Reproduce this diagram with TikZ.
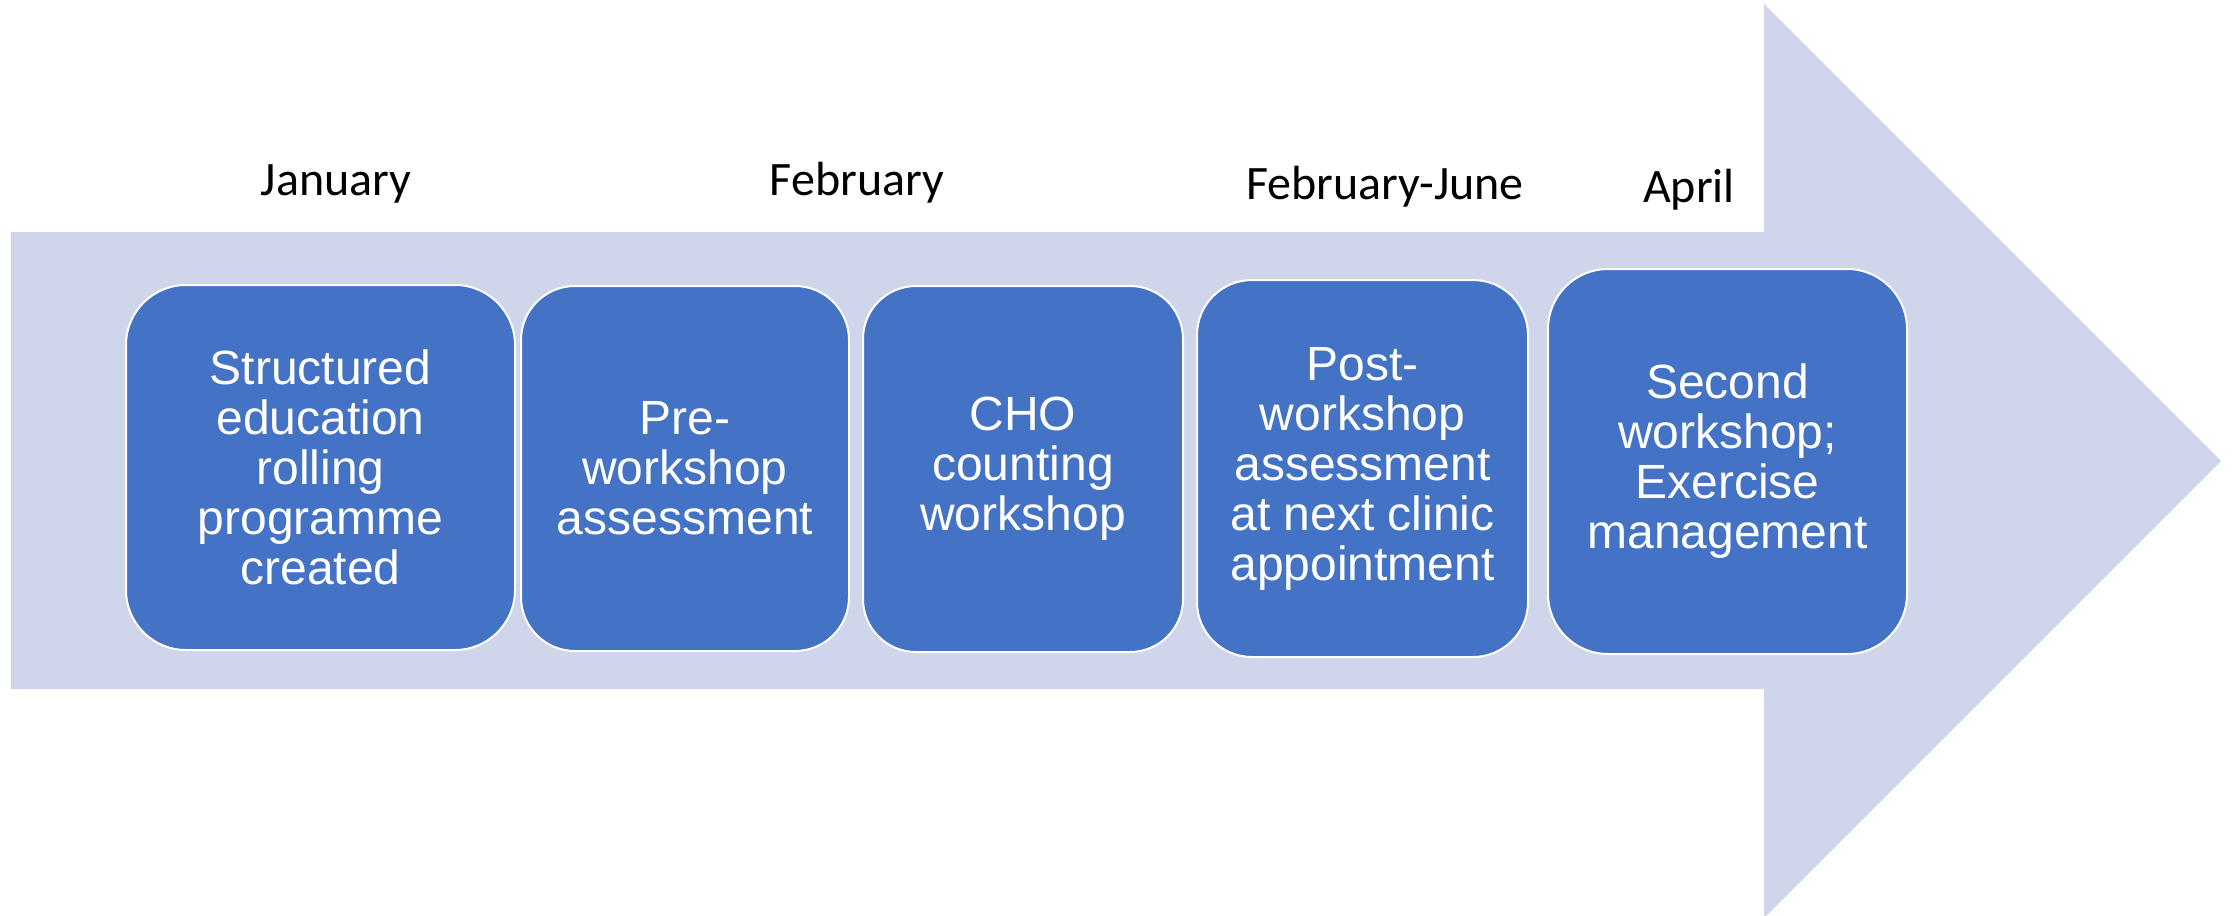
\documentclass[tikz,border=0pt]{standalone}
\usepackage{fontspec}
\setmainfont{Liberation Sans}
\newfontfamily\monthfont{Carlito}
\definecolor{shaftfill}{HTML}{CFD5EA}
\definecolor{stepfill}{HTML}{4472C4}
\begin{document}
\begin{tikzpicture}[x=0.5pt,y=-0.5pt,
  stepbox/.style={draw=white,line width=1pt,fill=stepfill,text=white,
    inner sep=0pt,align=center,font=\fontsize{24}{25}\selectfont},
  monthlabel/.style={anchor=base,inner sep=0pt,font=\monthfont\fontsize{24}{28}\selectfont}]
\useasboundingbox (0,0) rectangle (2236,915);
% big timeline arrow
\fill[shaftfill] (11,232) -- (1764,232) -- (1764,4) -- (2221,461)
  -- (1764,918) -- (1764,689) -- (11,689) -- cycle;
% month headings
\node[monthlabel] (jan) at (336,195) {January};
\node[monthlabel] (feb) at (857,195) {February};
\node[monthlabel] (febjun) at (1385,199) {February-June};
\node[monthlabel] (apr) at (1689,202) {April};
% steps
\node[stepbox,minimum width=194.5pt,minimum height=182.5pt,rounded corners=30pt]
  (s1) at (320.5,467.5) {Structured\\education\\rolling\\programme\\created};
\node[stepbox,minimum width=164pt,minimum height=182.5pt,rounded corners=27pt]
  (s2) at (685,468.5) {Pre-\\workshop\\assessment};
\node[stepbox,minimum width=160pt,minimum height=183pt,rounded corners=26.5pt]
  (s3) at (1023,469) {CHO\\counting\\workshop};
\node[stepbox,minimum width=165.5pt,minimum height=188.5pt,rounded corners=27.5pt]
  (s4) at (1362.5,468.5) {Post-\\workshop\\assessment\\at next clinic\\appointment};
\node[stepbox,minimum width=179.5pt,minimum height=192.5pt,rounded corners=30pt]
  (s5) at (1727.5,461.5) {Second\\workshop;\\Exercise\\management};
\end{tikzpicture}
\end{document}
